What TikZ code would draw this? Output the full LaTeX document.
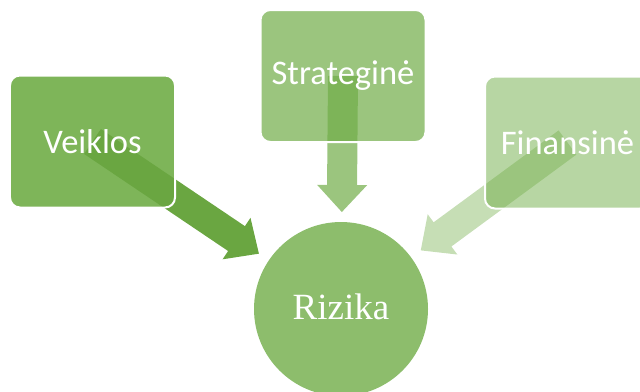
\documentclass[tikz,border=0pt]{standalone}
\usepackage{fontspec}
\setmainfont{Liberation Serif}
\newfontfamily\boxfont{Carlito}
\usetikzlibrary{calc}
\pgfdeclarelayer{bg}
\pgfdeclarelayer{mid}
\pgfsetlayers{bg,mid,main}
\definecolor{acc}{HTML}{70AD47}
\definecolor{accdark}{HTML}{6AA641}
\tikzset{
  box/.style={rectangle, rounded corners=10bp, draw=white, line width=2bp, outer sep=0pt,
    minimum width=165bp, minimum height=132bp, text=white, inner sep=0pt,
    font=\boxfont\fontsize{34.5bp}{40bp}\selectfont},
  boxfill/.style={fill=acc, rounded corners=10bp},
  hub/.style={circle, fill=acc, fill opacity=0.8, text opacity=1, minimum size=174bp, inner sep=0pt},
  arr/.style={fill=acc}
}
\newcommand{\blockarrow}[3]{%
  \coordinate (#2b) at ($(#2)!27bp!(#1)$);
  \fill[arr,#3] ($(#1)!15bp!90:(#2)$) -- ($(#2b)!15bp!90:(#2)$) -- ($(#2b)!25bp!90:(#2)$)
    -- (#2) -- ($(#2b)!25bp!-90:(#2)$) -- ($(#2b)!15bp!-90:(#2)$) -- ($(#1)!15bp!-90:(#2)$) -- cycle;
}
\begin{document}
\begin{tikzpicture}[x=1bp,y=-1bp]
\useasboundingbox (0,0) rectangle (640,391);
\node[box] (veiklos) at (92.5,141.5) {Veiklos};
\node[box] (strategine) at (343,76) {Strateginė};
\node[box] (finansine) at (567.5,142.5) {Finansinė};
\node[hub] (rizika) at (341,309) {};
\node[text=white, font=\fontsize{37bp}{44bp}\selectfont] (rizikatext) at (341,307) {Rizika};
\begin{pgfonlayer}{bg}
  \fill[boxfill, fill opacity=0.9] (veiklos.north west) rectangle (veiklos.south east);
  \fill[boxfill, fill opacity=0.7] (strategine.north west) rectangle (strategine.south east);
  \fill[boxfill, fill opacity=0.5] (finansine.north west) rectangle (finansine.south east);
\end{pgfonlayer}
\coordinate (vt) at ($(rizika.center)!99bp!(veiklos.center)$);
\coordinate (st) at ($(rizika.center)!97bp!(strategine.center)$);
\coordinate (ft) at ($(rizika.center)!99bp!(finansine.center)$);
\begin{pgfonlayer}{mid}
  \blockarrow{veiklos.center}{vt}{fill=accdark, fill opacity=1}
  \blockarrow{strategine.center}{st}{fill opacity=0.7}
  \blockarrow{finansine.center}{ft}{fill opacity=0.4}
\end{pgfonlayer}
\end{tikzpicture}
\end{document}
